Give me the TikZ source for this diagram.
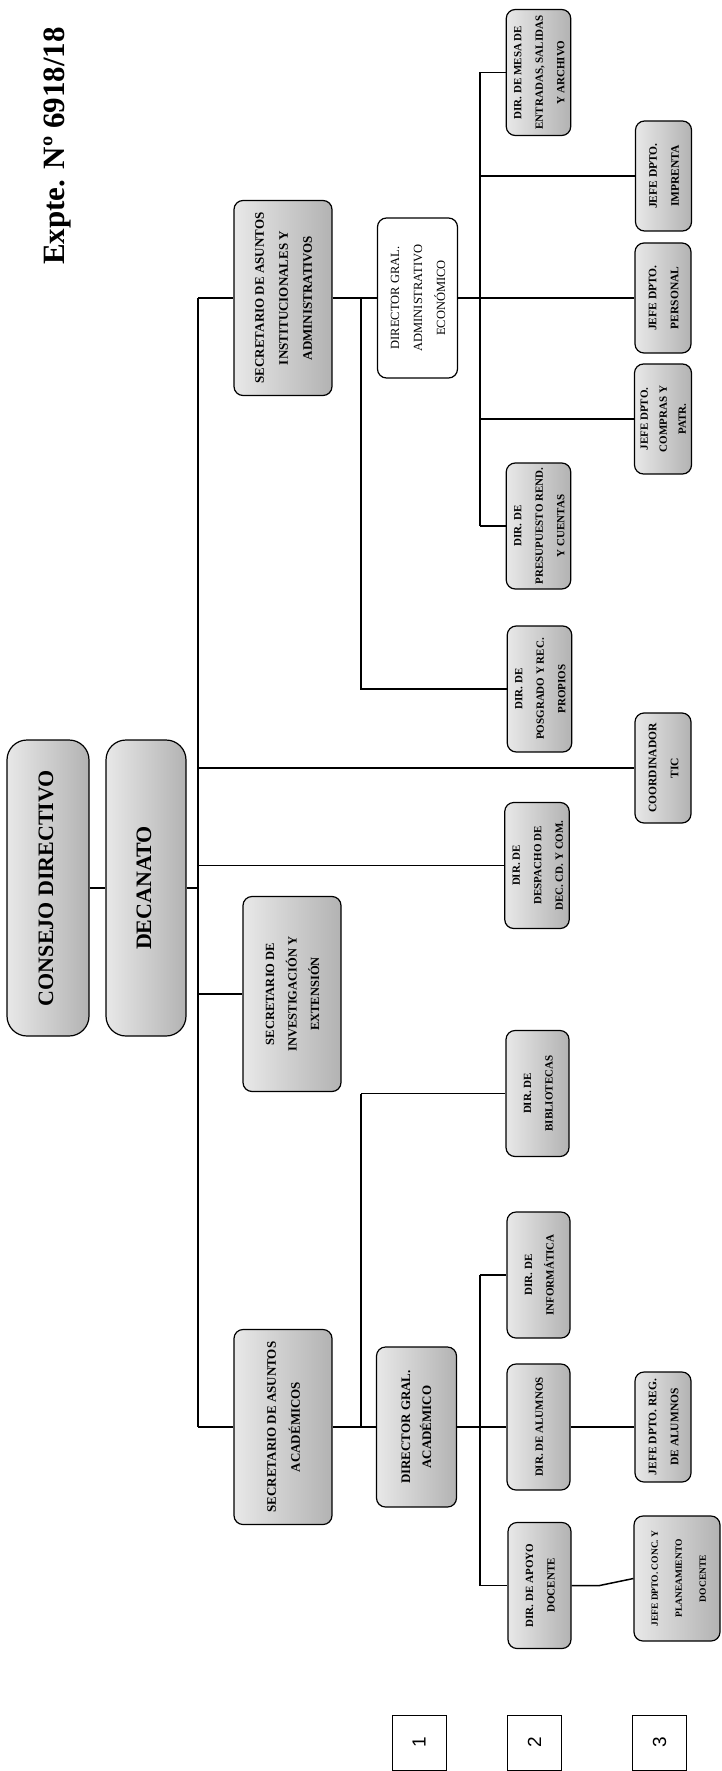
\documentclass[tikz,border=0pt]{standalone}
\usepackage{fontspec}
\setmainfont{Liberation Serif}
\setsansfont{Liberation Sans}
\newcommand{\vtexto}[1]{\rotatebox{90}{\begin{tabular}{@{}c@{}}#1\end{tabular}}}

\begin{document}
\begin{tikzpicture}[x=1pt,y=-1pt,
    linea/.style={line width=1.5pt},
    caja/.style={draw, line width=1.2pt, rounded corners=9pt, inner sep=0pt, left color=gray!18, right color=gray!60, font=\bfseries},
    cajasup/.style={caja, rounded corners=20pt, minimum width=82, minimum height=296, font=\bfseries\fontsize{22}{26}\selectfont},
    cajasec/.style={caja, minimum width=98, minimum height=195, font=\bfseries\fontsize{13}{24}\selectfont},
    cajagral/.style={caja, minimum width=80, minimum height=160, font=\bfseries\fontsize{13}{21}\selectfont},
    cajadir/.style={caja, minimum width=63, minimum height=126, font=\bfseries\fontsize{11}{21.5}\selectfont},
    cajajefe/.style={caja, minimum width=56, minimum height=110, font=\bfseries\fontsize{11.5}{22}\selectfont},
    nivel/.style={draw, line width=1pt, minimum width=54, minimum height=55, inner sep=0pt, font=\sffamily\fontsize{19}{22}\selectfont}]
    \useasboundingbox (0,0) rectangle (722,1771);

    \node[rotate=90, font=\bfseries\fontsize{31}{36}\selectfont] (expte) at (57,146) {Expte. Nº 6918/18};

    \node[cajasup] (consejo) at (48,888) {\vtexto{CONSEJO DIRECTIVO}};
    \node[cajasup, minimum width=80] (decanato) at (146,888) {\vtexto{DECANATO}};

    \node[cajasec] (sai) at (283,298) {\vtexto{SECRETARIO DE ASUNTOS\\INSTITUCIONALES Y\\ADMINISTRATIVOS}};
    \node[cajagral, left color=white, right color=white, font=\fontsize{12.5}{23}\selectfont] (dgae) at (417.5,298) {\vtexto{DIRECTOR GRAL.\\ADMINISTRATIVO\\ECONÓMICO}};
    \node[cajadir] (mesa) at (538.5,72.5) {\vtexto{DIR. DE MESA DE\\ENTRADAS, SALIDAS\\Y ARCHIVO}};
    \node[cajajefe] (imprenta) at (663.5,176) {\vtexto{JEFE DPTO.\\IMPRENTA}};
    \node[cajajefe] (personal) at (663,298) {\vtexto{JEFE DPTO.\\PERSONAL}};
    \node[cajajefe, font=\bfseries\fontsize{11}{19}\selectfont] (compras) at (663,419) {\vtexto{JEFE DPTO.\\COMPRAS Y\\PATR.}};
    \node[cajadir] (presupuesto) at (538.5,526) {\vtexto{DIR. DE\\PRESUPUESTO REND.\\Y CUENTAS}};
    \node[cajadir] (posgrado) at (539.5,689) {\vtexto{DIR. DE\\POSGRADO Y REC.\\PROPIOS}};
    \node[cajajefe] (tic) at (663,768) {\vtexto{COORDINADOR\\TIC}};
    \node[cajadir] (despacho) at (537,865.5) {\vtexto{DIR. DE\\DESPACHO DE\\DEC. CD. Y COM.}};
    \node[cajasec, font=\bfseries\fontsize{12.5}{22.5}\selectfont] (sie) at (292,994) {\vtexto{SECRETARIO DE\\INVESTIGACIÓN Y\\EXTENSIÓN}};
    \node[cajadir] (bibliotecas) at (537.5,1093.5) {\vtexto{DIR. DE\\BIBLIOTECAS}};
    \node[cajadir] (informatica) at (538.5,1275) {\vtexto{DIR. DE\\INFORMÁTICA}};
    \node[cajasec] (saa) at (283,1427) {\vtexto{SECRETARIO DE ASUNTOS\\ACADÉMICOS}};
    \node[cajagral] (dga) at (416.5,1427) {\vtexto{DIRECTOR GRAL.\\ACADÉMICO}};
    \node[cajadir] (alumnos) at (538.5,1427) {\vtexto{DIR. DE ALUMNOS}};
    \node[cajajefe] (regalumnos) at (663,1427) {\vtexto{JEFE DPTO. REG.\\DE ALUMNOS}};
    \node[cajadir] (apoyo) at (539.5,1585.5) {\vtexto{DIR. DE APOYO\\DOCENTE}};
    \node[cajajefe, minimum width=86, minimum height=125, font=\bfseries\fontsize{9.5}{24}\selectfont] (conc) at (677,1578.5) {\vtexto{JEFE DPTO. CONC. Y\\PLANEAMIENTO\\DOCENTE}};

    \node[nivel] (n1) at (419,1742.5) {\rotatebox{90}{1}};
    \node[nivel] (n2) at (534.5,1742.5) {\rotatebox{90}{2}};
    \node[nivel] (n3) at (659.5,1742.5) {\rotatebox{90}{3}};

    \coordinate (tronco) at (198,0);
    \coordinate (ramaA) at (361,0);
    \coordinate (ramaB) at (480,0);

    \draw[linea] (consejo.east) -- (decanato.west);
    \draw[linea] (decanato.east) -- (decanato.east -| tronco);
    \draw[linea] (tronco |- sai.west) -- (tronco |- saa.west);
    \draw[linea] (tronco |- sai.west) -- (sai.west);
    \draw[linea] (tronco |- tic.west) -- (tic.west);
    \draw[linea] (tronco |- despacho.west) -- (despacho.west);
    \draw[linea] (tronco |- sie.west) -- (sie.west);
    \draw[linea] (tronco |- saa.west) -- (saa.west);

    \draw[linea] (sai.east) -- (dgae.west);
    \draw[linea] (ramaA |- sai.east) -- (ramaA |- posgrado.west) -- (posgrado.west);
    \draw[linea] (dgae.east) -- (personal.west);
    \draw[linea] (ramaB |- mesa.west) -- (ramaB |- presupuesto.west);
    \draw[linea] (ramaB |- mesa.west) -- (mesa.west);
    \draw[linea] (ramaB |- imprenta.west) -- (imprenta.west);
    \draw[linea] (ramaB |- compras.west) -- (compras.west);
    \draw[linea] (ramaB |- presupuesto.west) -- (presupuesto.west);

    \draw[linea] (saa.east) -- (dga.west);
    \draw[linea] (ramaA |- bibliotecas.west) -- (ramaA |- saa.east);
    \draw[linea] (ramaA |- bibliotecas.west) -- (bibliotecas.west);
    \draw[linea] (dga.east) -- (alumnos.west);
    \draw[linea] (alumnos.east) -- (regalumnos.west);
    \draw[linea] (ramaB |- informatica.west) -- (ramaB |- apoyo.west);
    \draw[linea] (ramaB |- informatica.west) -- (informatica.west);
    \draw[linea] (ramaB |- apoyo.west) -- (apoyo.west);
    \draw[linea] (apoyo.east) -- ++(28,0) -- (conc.west);
\end{tikzpicture}
\end{document}
